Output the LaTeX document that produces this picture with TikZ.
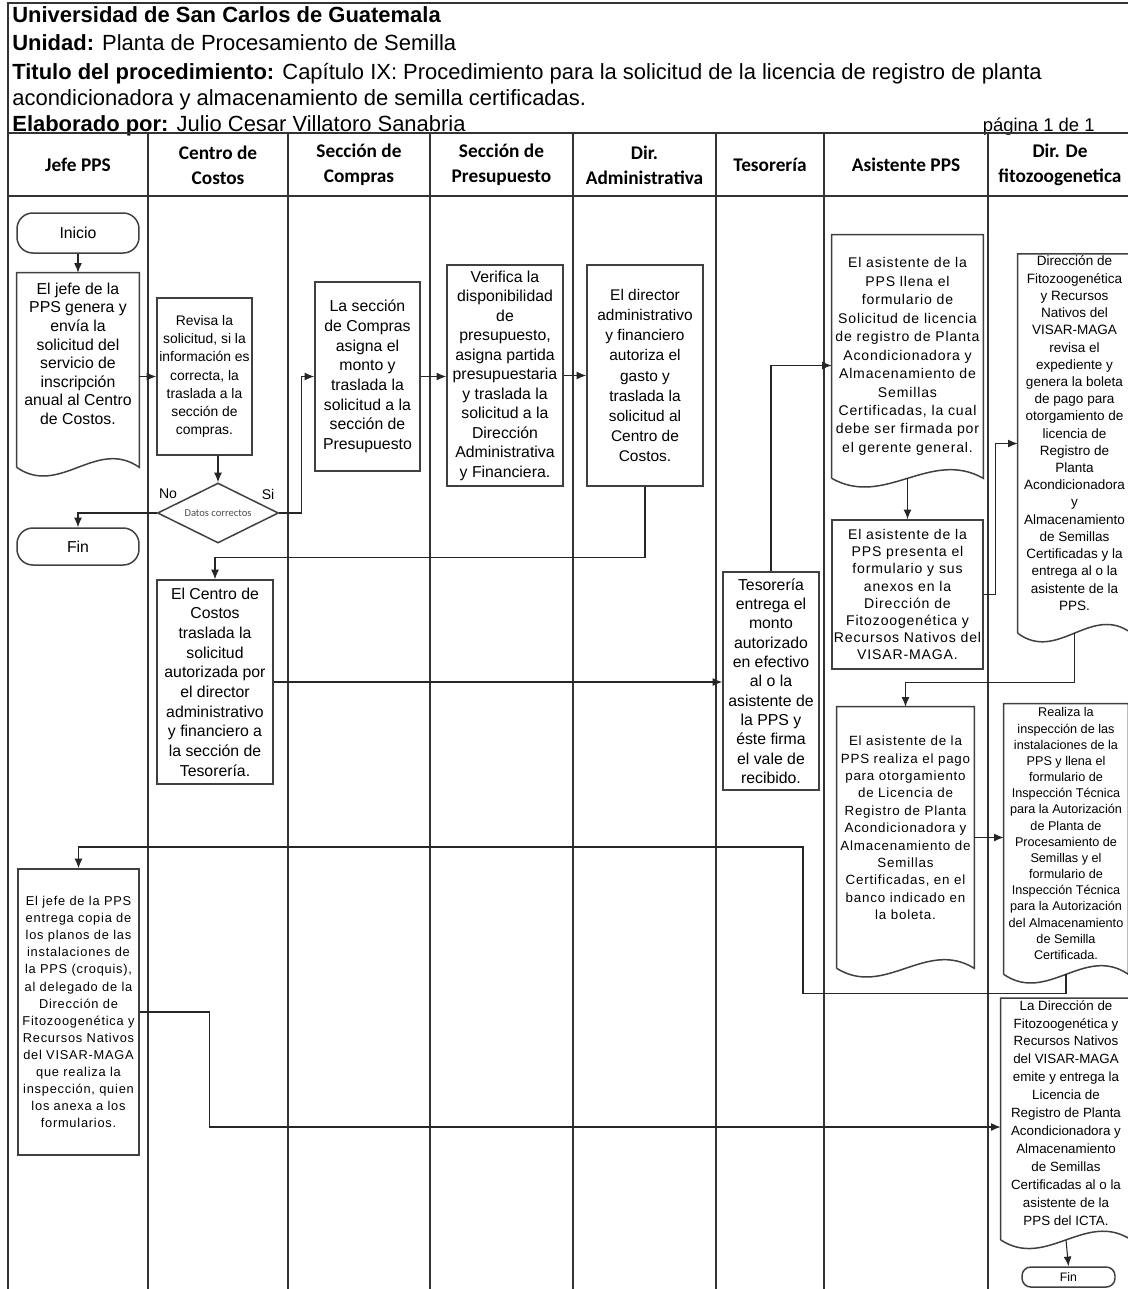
\documentclass[tikz,border=0pt]{standalone}
\usepackage{fontspec}
\setmainfont{Liberation Sans}
\newfontfamily\lanefont{Carlito}
\newfontfamily\spacedfont[LetterSpace=6]{Liberation Sans}
\usetikzlibrary{arrows.meta,calc,shapes.geometric}

% document symbol: straight top and sides, wavy bottom edge
\newcommand\docshape[1]{%
  \draw[boxline] (#1.south west) -- (#1.north west) -- (#1.north east) -- (#1.south east)
    .. controls ($(#1.south east)!0.35!(#1.south west)+(0,-30)$)
       and ($(#1.south west)!0.35!(#1.south east)+(0,30)$) .. (#1.south west);}
% extra empty line below a text block, lifts it inside its node
\newcommand\lift[1]{\\[#1]\mbox{}}

\begin{document}
\begin{tikzpicture}[x=0.02cm,y=-0.02cm,
  frame/.style={draw=black!80, line width=0.6pt},
  boxline/.style={draw=black!75, line width=0.85pt},
  flow/.style={draw=black!85, line width=0.6pt, -{Latex[length=5.5pt,width=4.5pt]}},
  proc/.style={boxline, align=center, inner sep=1pt},
  doc/.style={align=center, inner sep=1pt},
  term/.style={boxline, rounded corners=9pt, align=center, inner sep=1pt},
  lane/.style={font=\lanefont\bfseries\fontsize{11}{14}\selectfont, align=center},
  title/.style={anchor=base west, inner sep=0pt, font=\fontsize{12.5}{15}\selectfont}
]
\useasboundingbox (0,0) rectangle (1128,1289);
\clip (0,0) rectangle (1128,1289);
\fill[white] (0,0) rectangle (1128,1289);

% ---------- heading ----------
\node[title] (t1) at (12,22) {\textbf{Universidad de San Carlos de Guatemala}};
\node[title] (t2) at (12,50) {\textbf{Unidad:} Planta de Procesamiento de Semilla};
\node[title] (t3) at (12,79) {\textbf{Titulo del procedimiento:} Capítulo IX: Procedimiento para la solicitud de la licencia de registro de planta};
\node[title] (t4) at (12,105) {acondicionadora y almacenamiento de semilla certificadas.};
\node[title] (t5) at (12,131) {\textbf{Elaborado por:} Julio Cesar Villatoro Sanabria};
\node[title, anchor=base east, font=\fontsize{10.5}{12}\selectfont] (pg) at (1095,131) {página 1 de 1};

% ---------- table frame and swimlanes ----------
\draw[frame] (1128,3) -- (8,3) -- (8,1289);
\draw[frame] (8,133) -- (1128,133);
\draw[frame] (8,196) -- (1128,196);
\foreach \x in {148,288,430,573,716,824,988}
  \draw[frame] (\x,133) -- (\x,1289);

\node[lane] (h1) at (78,165) {Jefe PPS};
\node[lane] (h2) at (218,165) {Centro de\\Costos};
\node[lane] (h3) at (359,165) {Sección de\\Compras};
\node[lane] (h4) at (501.5,165) {Sección de\\Presupuesto};
\node[lane] (h5) at (644.5,165) {Dir.\\Administrativa};
\node[lane] (h6) at (770,165) {Tesorería};
\node[lane] (h7) at (906,165) {Asistente PPS};
\node[lane] (h8) at (1060,165) {Dir. De\\fitozoogenetica};

% ---------- steps ----------
\node[term, minimum width=2.44cm, minimum height=0.8cm, font=\fontsize{9}{11}\selectfont] (inicio) at (78,233) {Inicio};

\node[doc, minimum width=2.44cm, minimum height=3.88cm, font=\fontsize{9}{10.6}\selectfont] (jefe1) at (78,370)
  {El jefe de la\\PPS genera y\\envía la\\solicitud del\\servicio de\\inscripción\\anual al Centro\\de Costos.\lift{8pt}};

\node[proc, minimum width=1.9cm, minimum height=3.14cm, font=\fontsize{7.9}{10.4}\selectfont] (revisa) at (204.5,376.5)
  {Revisa la\\solicitud, si la\\información es\\correcta, la\\traslada a la\\sección de\\compras.};

\node[boxline, diamond, aspect=2, inner sep=0pt, minimum width=2.42cm, minimum height=1.2cm,
  font=\lanefont\fontsize{6}{7}\selectfont, text=black!70] (diam) at (218,513) {Datos correctos};
\node[font=\fontsize{8}{9}\selectfont, inner sep=0pt] (no) at (168,494) {No};
\node[font=\fontsize{8}{9}\selectfont, inner sep=0pt] (si) at (268,494) {Si};

\node[term, minimum width=2.44cm, minimum height=0.74cm, font=\fontsize{9}{11}\selectfont] (fin1) at (78,546.5) {Fin};

\node[proc, minimum width=2.1cm, minimum height=3.78cm, font=\fontsize{9}{11.2}\selectfont] (compras) at (367.5,376.5)
  {La sección\\de Compras\\asigna el\\monto y\\traslada la\\solicitud a la\\sección de\\Presupuesto};

\node[proc, minimum width=2.32cm, minimum height=4.42cm, font=\fontsize{9}{11.1}\selectfont] (presup) at (505,375.5)
  {Verifica la\\disponibilidad\\de\\presupuesto,\\asigna partida\\presupuestaria\\y traslada la\\solicitud a la\\Dirección\\Administrativa\\y Financiera.};

\node[proc, minimum width=2.32cm, minimum height=4.42cm, font=\fontsize{8.8}{11.5}\selectfont] (diradm) at (645,375.5)
  {El director\\administrativo\\y financiero\\autoriza el\\gasto y\\traslada la\\solicitud al\\Centro de\\Costos.};

\node[proc, minimum width=2.32cm, minimum height=4.08cm, font=\fontsize{9}{11.2}\selectfont] (centro2) at (215,682)
  {El Centro de\\Costos\\traslada la\\solicitud\\autorizada por\\el director\\administrativo\\y financiero a\\la sección de\\Tesorería.};

\node[proc, minimum width=1.92cm, minimum height=4.36cm, font=\fontsize{9}{11}\selectfont] (tesor) at (771,681)
  {Tesorería\\entrega el\\monto\\autorizado\\en efectivo\\al o la\\asistente de\\la PPS y\\éste firma\\el vale de\\recibido.};

\node[doc, minimum width=3.02cm, minimum height=4.86cm, font=\spacedfont\fontsize{8}{10.5}\selectfont] (asis1) at (907.5,356.5)
  {El asistente de la\\PPS llena el\\formulario de\\Solicitud de licencia\\de registro de Planta\\Acondicionadora y\\Almacenamiento de\\Semillas\\Certificadas, la cual\\debe ser firmada por\\el gerente general.};

\node[proc, minimum width=3.02cm, minimum height=2.98cm, font=\spacedfont\fontsize{8}{9.7}\selectfont] (asis2) at (907.5,594.5)
  {El asistente de la\\PPS presenta el\\formulario y sus\\anexos en la\\Dirección de\\Fitozoogenética y\\Recursos Nativos del\\VISAR-MAGA.};

\node[doc, minimum width=2.26cm, minimum height=7.54cm, font=\fontsize{7.7}{9.8}\selectfont] (dir1) at (1074.5,443.5)
  {Dirección de\\Fitozoogenética\\y Recursos\\Nativos del\\VISAR-MAGA\\revisa el\\expediente y\\genera la boleta\\de pago para\\otorgamiento de\\licencia de\\Registro de\\Planta\\Acondicionadora\\y\\Almacenamiento\\de Semillas\\Certificadas y la\\entrega al o la\\asistente de la\\PPS.\lift{2pt}};

\node[doc, minimum width=2.74cm, minimum height=5.22cm, font=\spacedfont\fontsize{7.6}{9.9}\selectfont] (pago) at (905.5,837.5)
  {El asistente de la\\PPS realiza el pago\\para otorgamiento\\de Licencia de\\Registro de Planta\\Acondicionadora y\\Almacenamiento de\\Semillas\\Certificadas, en el\\banco indicado en\\la boleta.\lift{1pt}};

\node[doc, minimum width=2.48cm, minimum height=5.4cm, font=\fontsize{7.2}{9.2}\selectfont] (insp) at (1066,839)
  {Realiza la\\inspección de las\\instalaciones de la\\PPS y llena el\\formulario de\\Inspección Técnica\\para la Autorización\\de Planta de\\Procesamiento de\\Semillas y el\\formulario de\\Inspección Técnica\\para la Autorización\\del Almacenamiento\\de Semilla\\Certificada.\lift{-3pt}};

\node[proc, minimum width=2.42cm, minimum height=5.72cm, font=\spacedfont\fontsize{7.3}{9.7}\selectfont] (jefe2) at (78.5,1012)
  {El jefe de la PPS\\entrega copia de\\los planos de las\\instalaciones de\\la PPS (croquis),\\al delegado de la\\Dirección de\\Fitozoogenética y\\Recursos Nativos\\del VISAR-MAGA\\que realiza la\\inspección, quien\\los anexa a los\\formularios.};

\node[doc, minimum width=2.6cm, minimum height=4.64cm, font=\fontsize{7.6}{10.2}\selectfont] (final) at (1066,1119)
  {La Dirección de\\Fitozoogenética y\\Recursos Nativos\\del VISAR-MAGA\\emite y entrega la\\Licencia de\\Registro de Planta\\Acondicionadora y\\Almacenamiento\\de Semillas\\Certificadas al o la\\asistente de la\\PPS del ICTA.\lift{-3pt}};

\node[term, rounded corners=5pt, minimum width=1.86cm, minimum height=0.4cm, font=\fontsize{7}{8}\selectfont] (fin2) at (1068.5,1277) {Fin};

\foreach \n in {jefe1,asis1,dir1,pago,insp,final} {\docshape{\n}}

% ---------- connectors ----------
\draw[flow] (inicio.south) -- (jefe1.north);
\draw[flow] (jefe1.east |- revisa.west) -- (revisa.west);
\draw[flow] (revisa.south -| diam.north) -- (diam.north);
\draw[flow] (diam.west) -| (fin1.north);
\draw[flow] (diam.east) -- ++(22,0) |- (compras.west);
\draw[flow] (compras.east) -- (compras.east -| presup.west);
\draw[flow] (presup.east) -- (diradm.west);
\draw[flow] (diradm.south) -- ++(0,71) -| (centro2.north);
\draw[flow] (centro2.east) -- (centro2.east -| tesor.west);
\draw[flow] (tesor.north) |- ($(asis1.west)+(0,9)$);
\draw[flow] (asis1.south) -- (asis2.north);
\draw[flow] (asis2.east) -- ++(12,0) |- (dir1.west);
\draw[flow] (dir1.south) -- ++(0,49) -| (pago.north);
\draw[flow] (pago.east) -- (pago.east -| insp.west);
\coordinate (back) at (803,847);
\draw[flow] (insp.south) -- ++(0,19) -| (back) -| (jefe2.north);
\draw[flow] (jefe2.east) -- ++(70,0) |- ($(final.west)+(0,8)$);
\draw[flow] (final.south) -- (fin2.north);
\end{tikzpicture}
\end{document}
